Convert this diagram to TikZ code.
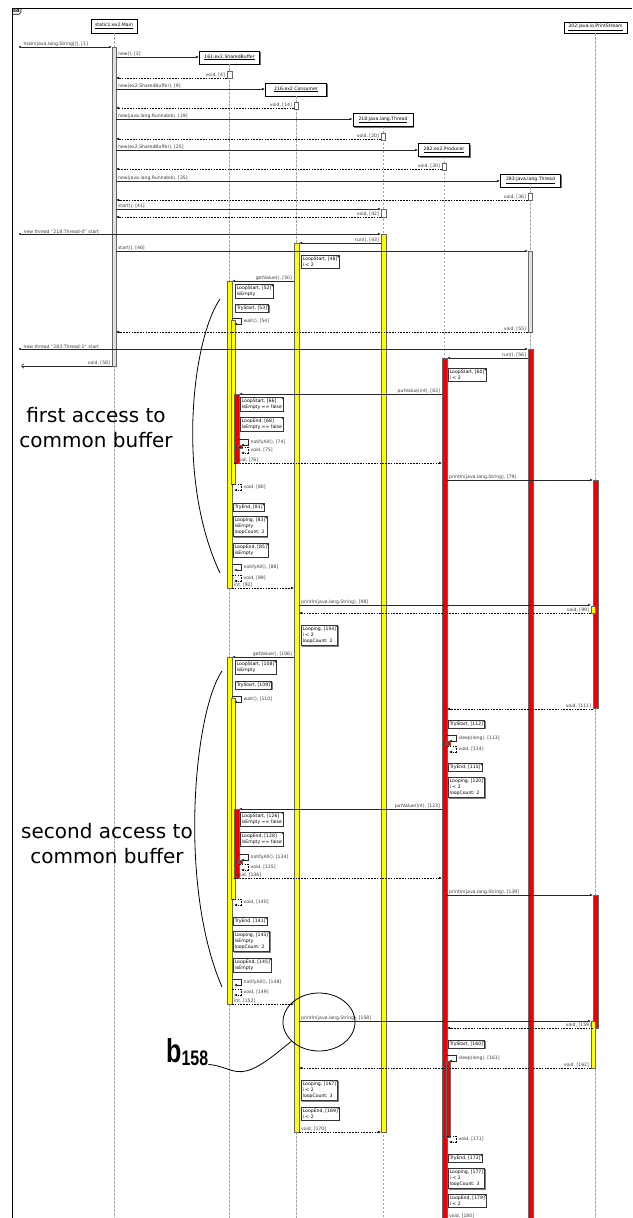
\documentclass[tikz,border=0pt]{standalone}
\usepackage{fontspec}
\setmainfont{DejaVu Sans}
\newfontfamily\calloutfont{Liberation Sans}
\usepackage{tikz}
\usetikzlibrary{arrows.meta,calc,positioning,shadows,shapes.geometric}
\definecolor{seqYellow}{HTML}{FFFF00}
\definecolor{seqRed}{HTML}{F00000}
\definecolor{seqIdle}{HTML}{E2E2E2}
\definecolor{seqLine}{HTML}{A6A6A6}
\definecolor{seqText}{HTML}{3A3A3A}

% activation bar: name, fill, width, x, top, bottom
\newcommand\sqbar[6]{\node[bar,fill=#2,minimum width=#3pt,minimum height={(#6-#5)*1pt},anchor=north] (#1) at (#4,#5) {};}
% message: style, name, x from, x to, y, label, label style
\newcommand\sqmsg[7]{%
  \coordinate (#2a) at (#3,#5);
  \coordinate (#2b) at (#4,#5);
  \draw[#1] (#2a) -- (#2b);
  \node[#7] (#2t) at (#2a) {#6};}
% self call: style, name, x, y, label
\newcommand\sqself[5]{%
  \coordinate (#2a) at (#3,#4);
  \coordinate (#2b) at ($(#2a)+(2,6)$);
  \draw[#1] (#2a) -- ++(9,0) |- (#2b);
  \node[lblS] (#2t) at ($(#2a)+(11,3)$) {#5};}
% creation from main: name, head, y, label
\newcommand\sqcreate[4]{%
  \coordinate (#1a) at (116,#3);
  \draw[call] (#1a) -- (#1a -| #2.west);
  \node[lblR] (#1t) at (#1a) {#4};}

\begin{document}
\begin{tikzpicture}[x=1pt,y=-1pt,>=Latex,font=\fontsize{4.6}{6.3}\selectfont]
  \tikzset{
    hdr/.style={draw,line width=.9pt,fill=white,minimum height=13pt,inner sep=1pt,drop shadow={shadow xshift=1.2pt,shadow yshift=-1.2pt,fill=black!55,opacity=1}},
    lifeline/.style={draw=seqLine,line width=.6pt,dash pattern=on 2.5pt off 1.5pt},
    bar/.style={draw=black!60,line width=.5pt,inner sep=0pt,outer sep=0pt},
    call/.style={draw=black!85,line width=.6pt,-{Latex[length=3pt,width=2.6pt]}},
    ret/.style={draw=black,line width=.6pt,dash pattern=on 1.6pt off 1.2pt,-{Latex[length=3pt,width=2.6pt]}},
    found/.style={draw=black!85,line width=.6pt,{Circle[length=2pt]}-{Latex[length=3pt,width=2.6pt]}},
    lost/.style={draw=black!85,line width=.6pt,-{Straight Barb[length=2.5pt,width=4.5pt]}},
    lblL/.style={anchor=south east,xshift=-1.5pt,inner sep=.4pt,text=seqText},
    lblR/.style={anchor=south west,xshift=1.5pt,inner sep=.4pt,text=seqText},
    lblS/.style={anchor=west,inner sep=.4pt,text=seqText},
    note/.style={draw=black!80,fill=white,line width=.5pt,anchor=north west,align=left,inner xsep=1.5pt,inner ysep=1.6pt,
      drop shadow={shadow xshift=1pt,shadow yshift=-1pt,fill=black!50,opacity=1},
      path picture={\fill[black!85] ([xshift=-2.4pt]path picture bounding box.north east) -- (path picture bounding box.north east) -- ([yshift=-2.4pt]path picture bounding box.north east) -- cycle;}},
    bigtxt/.style={font=\fontsize{20}{25}\selectfont,align=center,inner sep=0pt}
  }
  \useasboundingbox (0,0) rectangle (632,1218);
  \fill[white] (0,0) rectangle (632,1218);

  % frame
  \draw[line width=.8pt] (12,1218) -- (12,8) -- (632,8);
  \node[anchor=north west,inner sep=1pt,font=\fontsize{5}{5}\selectfont\bfseries] (sdTag) at (12,8) {sd};
  \draw[line width=.6pt] (sdTag.south west) -- ([xshift=-2pt]sdTag.south east) -- ([yshift=2pt]sdTag.south east) -- (sdTag.north east);

  % lifelines
  \coordinate (seqEnd) at (0,1218);
  \node[hdr,minimum width=46pt,minimum height=14pt] (hdrMain) at (114,26) {\underline{static1:ex2.Main}};
  \node[hdr,minimum width=60pt] (hdrBuf) at (229.5,57.5) {\underline{161:ex2.SharedBuffer}};
  \node[hdr,minimum width=61pt] (hdrCons) at (296,89.5) {\underline{216:ex2.Consumer}};
  \node[hdr,minimum width=60pt] (hdrThA) at (383,120) {\underline{218:java.lang.Thread}};
  \node[hdr,minimum width=51pt] (hdrProd) at (444,150) {\underline{282:ex2.Producer}};
  \node[hdr,minimum width=60pt] (hdrThB) at (530.5,180.5) {\underline{283:java.lang.Thread}};
  \node[hdr,minimum width=63pt,minimum height=11pt] (hdrOut) at (595.5,27.5) {\underline{302:java.io.PrintStream}};
  \foreach \h in {hdrMain,hdrBuf,hdrCons,hdrThA,hdrProd,hdrThB,hdrOut}
    \draw[lifeline] (\h.south) -- (\h.south |- seqEnd);

  % activations
  \sqbar{aMain}{seqIdle}{4}{114}{47}{366}
  \sqbar{aBuf4}{white}{5}{229.5}{71}{78}
  \sqbar{aCons14}{white}{4}{296}{102}{109}
  \sqbar{aThA20}{white}{4}{383}{133}{140}
  \sqbar{aProd30}{white}{4}{444}{163}{170}
  \sqbar{aThB36}{white}{4}{530}{193}{200}
  \sqbar{aThA41}{white}{5}{383.5}{209}{217}
  \sqbar{aThA}{seqYellow}{5}{383.5}{234}{1132}
  \sqbar{aCons}{seqYellow}{5}{296.5}{243}{1132}
  \sqbar{aThB46}{seqIdle}{4}{530}{251}{332}
  \sqbar{aThB}{seqRed}{5}{530.5}{349}{1218}
  \sqbar{aProd}{seqRed}{5}{444.5}{358}{1218}
  \sqbar{aProd113}{seqRed}{4}{448}{741}{745}
  \sqbar{aProd161}{seqRed}{4}{448}{1061}{1137}
  \sqbar{aBuf50}{seqYellow}{5}{229.5}{281}{588}
  \sqbar{aBuf54}{seqYellow}{4}{233}{320}{484}
  \sqbar{aBuf63}{seqRed}{5}{236.5}{394}{463}
  \sqbar{aBuf74}{seqRed}{4}{240}{445}{448}
  \sqbar{aBuf106}{seqYellow}{5}{229.5}{657}{1004}
  \sqbar{aBuf110}{seqYellow}{4}{233}{698}{899}
  \sqbar{aBuf123}{seqRed}{5}{236.5}{809}{878}
  \sqbar{aBuf134}{seqRed}{4}{240}{860}{863}
  \sqbar{aOut79}{seqRed}{5}{595.5}{480}{708}
  \sqbar{aOut98}{seqYellow}{4}{593}{606}{613}
  \sqbar{aOut139}{seqRed}{5}{595.5}{895}{1028}
  \sqbar{aOut158}{seqYellow}{4}{593}{1021}{1068}

  % messages
  \sqmsg{found}{mMain}{19}{112}{47}{main(java.lang.String[]), [1]}{lblR,xshift=2.5pt}
  \sqcreate{mNew3}{hdrBuf}{57}{new(), [3]}
  \sqmsg{ret}{mRet4}{227}{116}{78}{void, [4]}{lblL}
  \sqcreate{mNew9}{hdrCons}{89}{new(ex2.SharedBuffer), [9]}
  \sqmsg{ret}{mRet14}{294}{116}{108}{void, [14]}{lblL}
  \sqcreate{mNew19}{hdrThA}{119}{new(java.lang.Runnable), [19]}
  \sqmsg{ret}{mRet20}{381}{116}{139}{void, [20]}{lblL}
  \sqcreate{mNew25}{hdrProd}{150}{new(ex2.SharedBuffer), [25]}
  \sqmsg{ret}{mRet30}{442}{116}{169}{void, [30]}{lblL}
  \sqcreate{mNew35}{hdrThB}{181}{new(java.lang.Runnable), [35]}
  \sqmsg{ret}{mRet36}{528}{116}{200}{void, [36]}{lblL}
  \sqmsg{call}{mStart41}{116}{381}{209}{start(), [41]}{lblR}
  \sqmsg{ret}{mRet42}{381}{116}{217}{void, [42]}{lblL}
  \sqmsg{found}{mThA}{19}{381}{234}{new thread "218:Thread-0" start}{lblR,xshift=2.5pt}
  \sqmsg{call}{mRun43}{381}{299}{243}{run(), [43]}{lblL}
  \sqmsg{call}{mStart46}{116}{528}{251}{start(), [46]}{lblR}
  \sqmsg{call}{mGet50}{294}{232}{281}{getValue(), [50]}{lblL}
  \sqself{call}{mWait54}{232}{318}{wait(), [54]}
  \sqmsg{ret}{mRet55}{528}{116}{332}{void, [55]}{lblL}
  \sqmsg{found}{mThB}{19}{528}{349}{new thread "283:Thread-1" start}{lblR,xshift=2.5pt}
  \sqmsg{call}{mRun56}{528}{447}{358}{run(), [56]}{lblL}
  \sqmsg{lost}{mRet58}{112}{21}{366}{void, [58]}{lblL}
  \sqmsg{call}{mPut63}{442}{239}{394}{putValue(int), [63]}{lblL}
  \sqself{call}{mNote74}{239}{439}{notifyAll(), [74]}
  \sqself{ret}{mRet75}{239}{447}{void, [75]}
  \sqmsg{ret}{mRet76}{234}{442}{463}{void, [76]}{lblR}
  \sqmsg{call}{mOut79}{447}{593}{480}{println(java.lang.String), [79]}{lblR}
  \sqself{ret}{mRet80}{232}{484}{void, [80]}
  \sqself{call}{mNote88}{232}{564}{notifyAll(), [88]}
  \sqself{ret}{mRet89}{232}{575}{void, [89]}
  \sqmsg{ret}{mRet92}{232}{294}{588}{int, [92]}{lblR}
  \sqmsg{call}{mOut98}{299}{591}{605}{println(java.lang.String), [98]}{lblR}
  \sqmsg{ret}{mRet99}{591}{299}{613}{void, [99]}{lblL}
  \sqmsg{call}{mGet106}{294}{232}{657}{getValue(), [106]}{lblL}
  \sqself{call}{mWait110}{232}{696}{wait(), [110]}
  \sqmsg{ret}{mRet111}{593}{447}{709}{void, [111]}{lblL}
  \sqself{call}{mSleep113}{447}{735}{sleep(long), [113]}
  \sqself{ret}{mRet114}{447}{746}{void, [114]}
  \sqmsg{call}{mPut123}{442}{239}{809}{putValue(int), [123]}{lblL}
  \sqself{call}{mNote134}{239}{854}{notifyAll(), [134]}
  \sqself{ret}{mRet135}{239}{864}{void, [135]}
  \sqmsg{ret}{mRet136}{234}{442}{878}{void, [136]}{lblR}
  \sqmsg{call}{mOut139}{447}{593}{895}{println(java.lang.String), [139]}{lblR}
  \sqself{ret}{mRet140}{232}{899}{void, [140]}
  \sqself{call}{mNote148}{232}{979}{notifyAll(), [148]}
  \sqself{ret}{mRet149}{232}{989}{void, [149]}
  \sqmsg{ret}{mRet152}{232}{294}{1004}{int, [152]}{lblR}
  \sqmsg{call}{mOut158}{299}{591}{1021}{println(java.lang.String), [158]}{lblR}
  \sqmsg{ret}{mRet159}{593}{447}{1028}{void, [159]}{lblL}
  \sqself{call}{mSleep161}{447}{1055}{sleep(long), [161]}
  \sqmsg{ret}{mRet162}{591}{299}{1068}{void, [162]}{lblL}
  \sqmsg{ret}{mRet170}{299}{381}{1132}{void, [170]}{lblR}
  \sqself{ret}{mRet171}{447}{1136}{void, [171]}
  \sqmsg{ret}{mRet180}{447}{528}{1219}{void, [180]}{lblR}

  % notes
  \node[note] (n48) at (301,255) {LoopStart, [48]\\i < 2};
  \node[note] (n52) at (235,284) {LoopStart, [52]\\isEmpty};
  \node[note] (n53) at (235,304) {TryStart, [53]};
  \node[note] (n60) at (448,368) {LoopStart, [60]\\i < 2};
  \node[note] (n66) at (240,397) {LoopStart, [66]\\isEmpty == false};
  \node[note] (n68) at (240,417) {LoopEnd, [68]\\isEmpty == false};
  \node[note] (n81) at (233,503) {TryEnd, [81]};
  \node[note] (n83) at (233,516) {Looping, [83]\\isEmpty\\loopCount: 2};
  \node[note] (n85) at (233,543) {LoopEnd, [85]\\isEmpty};
  \node[note] (n104) at (301,625) {Looping, [104]\\i < 2\\loopCount: 2};
  \node[note] (n108) at (235,660) {LoopStart, [108]\\isEmpty};
  \node[note] (n109) at (235,681) {TryStart, [109]};
  \node[note] (n112) at (448,720) {TryStart, [112]};
  \node[note] (n115) at (448,763) {TryEnd, [115]};
  \node[note] (n120) at (448,777) {Looping, [120]\\i < 2\\loopCount: 2};
  \node[note] (n126) at (240,812) {LoopStart, [126]\\isEmpty == false};
  \node[note] (n128) at (240,832) {LoopEnd, [128]\\isEmpty == false};
  \node[note] (n141) at (233,917) {TryEnd, [141]};
  \node[note] (n143) at (233,931) {Looping, [143]\\isEmpty\\loopCount: 2};
  \node[note] (n145) at (233,958) {LoopEnd, [145]\\isEmpty};
  \node[note] (n160) at (448,1040) {TryStart, [160]};
  \node[note] (n167) at (301,1080) {Looping, [167]\\i < 2\\loopCount: 3};
  \node[note] (n169) at (301,1107) {LoopEnd, [169]\\i < 2};
  \node[note] (n172) at (448,1154) {TryEnd, [172]};
  \node[note] (n177) at (448,1168) {Looping, [177]\\i < 2\\loopCount: 3};
  \node[note] (n179) at (448,1194) {LoopEnd, [179]\\i < 2};

  % annotations
  \node[bigtxt] (firstAcc) at (96,428) {first access to\\common buffer};
  \node[bigtxt] (secondAcc) at (107,844) {second access to\\common buffer};
  \draw[line width=.8pt] (220,299) .. controls (192,340) and (176,480) .. (220,573);
  \draw[line width=.8pt] (222,671) .. controls (194,712) and (178,885) .. (222,987);
  \node[draw,ellipse,line width=.8pt,minimum width=72pt,minimum height=58pt,inner sep=0pt] (hl158) at (319,1022) {};
  \node[anchor=base west,inner sep=0pt,font=\calloutfont\bfseries\fontsize{33}{33}\selectfont] (b158) at (166,1062) {\scalebox{.76}[1]{b\raisebox{-3pt}{\fontsize{21}{21}\selectfont 158}}};
  \draw[line width=.8pt] ([yshift=1pt]b158.south east) .. controls (226,1066) and (232,1074) .. (246,1071) .. controls (262,1067) and (280,1050) .. (hl158.-145);
\end{tikzpicture}
\end{document}
